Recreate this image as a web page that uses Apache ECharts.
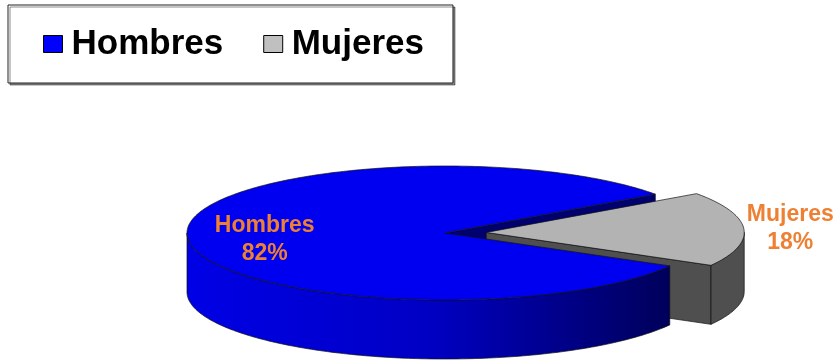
<!DOCTYPE html>
<html>
<head>
<meta charset="utf-8">
<script src="https://cdn.jsdelivr.net/npm/echarts@6/dist/echarts.min.js"></script>
<style>
html,body{margin:0;padding:0;background:#fff;}
#chart{width:839px;height:360px;}
</style>
</head>
<body>
<div id="chart"></div>
<script>
// ---- data ----
const categories = ['Hombres', 'Mujeres'];
const values = [82, 18];

// ---- styles / layout ----
const topColors = ['#0000f0', '#b3b3b3'];
const sideColors = [['#0000e6', '#0000c4', '#00005a'], ['#4f4f4f', '#4f4f4f', '#4f4f4f']];
const faceColors = ['#00006e', '#4f4f4f'];
const legendColors = ['#0000ff', '#c0c0c0'];
const explode = [0, 0.16];
const labelRadius = [0.7, 1.18];
const labelDy = [4, 0];
const CX = 445, CY = 233, RX = 258, RY = 67, DEPTH = 59, START = 35.4;
const total = values.reduce((a, b) => a + b, 0);
const rad = d => d * Math.PI / 180;

function pt(cx, cy, th, dz) {
  return [cx + RX * Math.cos(rad(th)), cy - RY * Math.sin(rad(th)) + dz];
}
function arc(cx, cy, a, b, dz) {
  const pts = [];
  const n = Math.max(2, Math.ceil(Math.abs(b - a)));
  for (let k = 0; k <= n; k++) pts.push(pt(cx, cy, a + (b - a) * k / n, dz));
  return pts;
}

function renderItem(params, api) {
  const i = api.value(0);
  const v = api.value(1);
  const cum = values.slice(0, i).reduce((a, b) => a + b, 0);
  const s = START + 360 * cum / total;
  const e = s + 360 * v / total;
  const mid = (s + e) / 2;
  const cx = CX + explode[i] * RX * Math.cos(rad(mid));
  const cy = CY - explode[i] * RY * Math.sin(rad(mid));
  const base = explode[i] > 0 ? 3 : 5;
  const stroke = { stroke: '#111', lineWidth: 0.7, lineJoin: 'round' };
  const children = [];

  // radial faces
  if (Math.cos(rad(s)) > 0) {
    const p = pt(cx, cy, s, 0);
    children.push({ type: 'polygon', z2: 1 + i,
      shape: { points: [[cx, cy], p, [p[0], p[1] + DEPTH], [cx, cy + DEPTH]] },
      style: Object.assign({ fill: faceColors[i] }, stroke) });
  }
  if (Math.cos(rad(e)) < 0) {
    const p = pt(cx, cy, e, 0);
    children.push({ type: 'polygon', z2: 1 + i,
      shape: { points: [[cx, cy], p, [p[0], p[1] + DEPTH], [cx, cy + DEPTH]] },
      style: Object.assign({ fill: faceColors[i] }, stroke) });
  }

  // outer side (front half only)
  for (let k = -1; k <= 2; k++) {
    const a = Math.max(s, 180 + 360 * k);
    const b = Math.min(e, 360 + 360 * k);
    if (b > a) {
      const pts = arc(cx, cy, a, b, 0).concat(arc(cx, cy, b, a, DEPTH));
      children.push({ type: 'polygon', z2: base,
        shape: { points: pts },
        style: Object.assign({
          fill: new echarts.graphic.LinearGradient(0, 0, 1, 0, [
            { offset: 0, color: sideColors[i][0] },
            { offset: 0.5, color: sideColors[i][1] },
            { offset: 1, color: sideColors[i][2] }
          ])
        }, stroke) });
    }
  }

  // top face
  children.push({ type: 'polygon', z2: base + 1,
    shape: { points: [[cx, cy]].concat(arc(cx, cy, s, e, 0)) },
    style: Object.assign({ fill: topColors[i] }, stroke) });

  // label
  const lx = cx + labelRadius[i] * RX * Math.cos(rad(mid));
  const ly = cy - labelRadius[i] * RY * Math.sin(rad(mid)) + labelDy[i];
  children.push({ type: 'text', z2: 20,
    style: {
      x: lx, y: ly,
      text: categories[i] + '\n' + Math.round(100 * v / total) + '%',
      fill: '#ee8033', fontFamily: 'Liberation Sans', fontWeight: 'bold',
      fontSize: 23, lineHeight: 28, align: 'center', verticalAlign: 'middle'
    } });

  return { type: 'group', children: children };
}

const chart = echarts.init(document.getElementById('chart'), null, { renderer: 'canvas' });
chart.setOption({
  animation: false,
  backgroundColor: '#fff',
  legend: {
    left: 8, top: 5,
    icon: 'rect', itemWidth: 19, itemHeight: 17, itemGap: 40,
    padding: [19, 29, 19, 35],
    backgroundColor: '#fff', borderColor: '#222', borderWidth: 1,
    shadowColor: 'rgba(0,0,0,0.45)', shadowOffsetX: 2, shadowOffsetY: 2, shadowBlur: 0,
    selectedMode: false,
    textStyle: { fontFamily: 'Liberation Sans', fontWeight: 'bold', fontSize: 35, lineHeight: 40, color: '#000', padding: [0, 0, 0, 4] },
    data: categories.map((c, i) => ({ name: c, itemStyle: { color: legendColors[i], borderColor: '#000', borderWidth: 1 } }))
  },
  series: categories.map((c, i) => ({
    type: 'custom',
    name: c,
    coordinateSystem: 'none',
    silent: true,
    itemStyle: { color: legendColors[i] },
    data: [[i, values[i]]],
    renderItem: renderItem
  }))
});
</script>
</body>
</html>
